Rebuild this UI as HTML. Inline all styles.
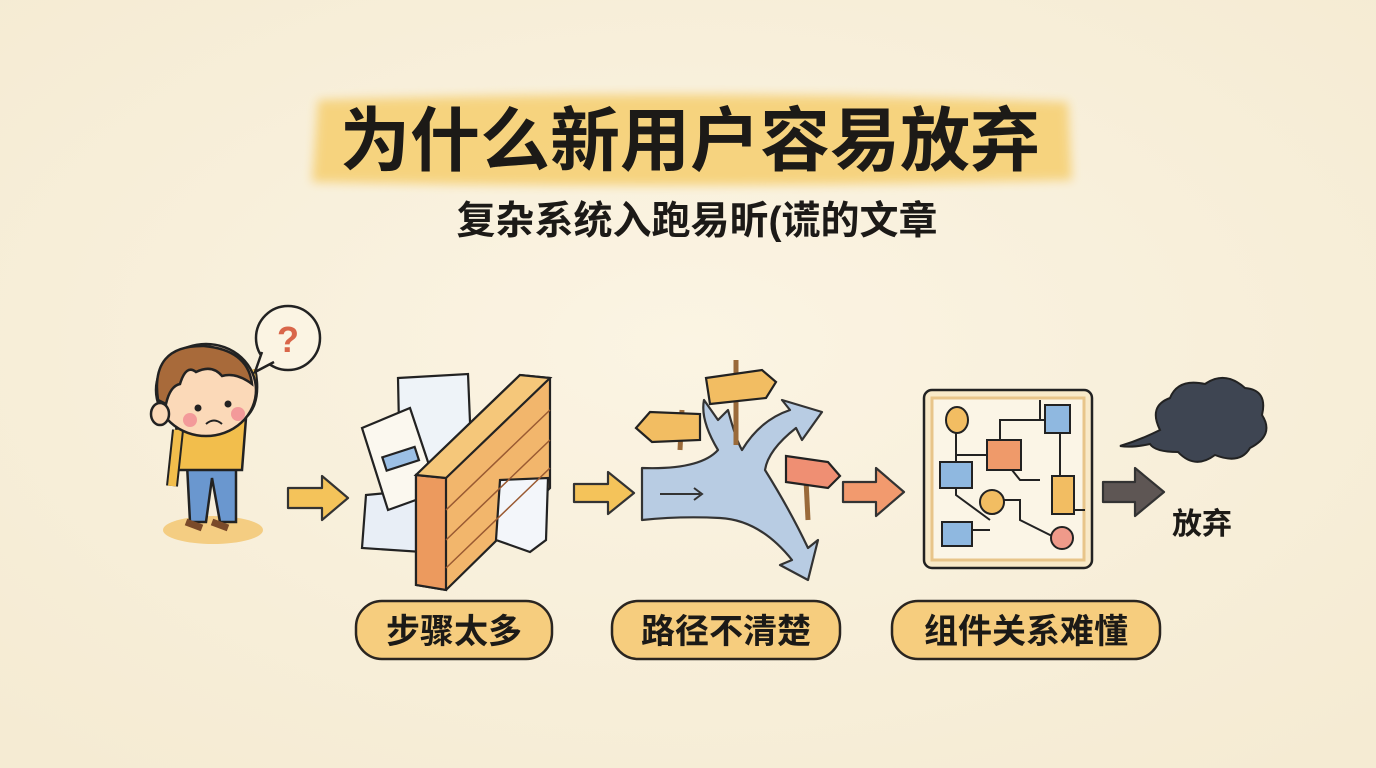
<!DOCTYPE html>
<html><head><meta charset="utf-8"><style>
html,body{margin:0;padding:0;background:#f9f1de;}
svg{display:block}
text{font-family:"Liberation Sans","Noto Sans CJK SC","WenQuanYi Zen Hei",sans-serif;}
</style></head><body>
<svg width="1376" height="768" viewBox="0 0 1376 768" xmlns="http://www.w3.org/2000/svg">
<defs>
<radialGradient id="bg" cx="50%" cy="45%" r="70%"><stop offset="0" stop-color="#fbf4e3"/><stop offset="1" stop-color="#f5ebd3"/></radialGradient>
<filter id="blur"><feGaussianBlur stdDeviation="5"/></filter>
</defs>
<rect width="1376" height="768" fill="url(#bg)"/>
<path d="M318 100 Q690 88 1068 102 L1072 180 Q690 190 312 182 Z" fill="#f6d27a" filter="url(#blur)" opacity="0.95"/>
<text x="690" y="165" text-anchor="middle" font-size="70" font-weight="bold" fill="#1c1a17">为什么新用户容易放弃</text>
<text x="697" y="234" text-anchor="middle" font-size="39" font-weight="bold" fill="#1c1a17">复杂系统入跑易昕(谎的文章</text>

<!-- boy -->
<ellipse cx="213" cy="530" rx="50" ry="14" fill="#f3c978" opacity="0.9"/>
<path d="M186 445 L190 522 L206 522 L212 478 L220 522 L236 522 L236 445 Z" fill="#6a97cf" stroke="#222" stroke-width="2.5"/>
<path d="M176 420 Q182 398 212 396 Q240 398 246 418 L242 470 L178 470 Z" fill="#f2be4c" stroke="#222" stroke-width="2.5"/>
<path d="M178 430 L172 486" stroke="#222" stroke-width="12"/><path d="M178 430 L172 486" stroke="#f2be4c" stroke-width="8"/>
<path d="M232 420 Q258 410 250 370" stroke="#222" stroke-width="13" fill="none"/><path d="M232 420 Q258 410 250 370" stroke="#f2be4c" stroke-width="9" fill="none"/>
<path d="M186 522 L202 528 M212 522 L228 528" stroke="#7a4a2a" stroke-width="7"/>
<ellipse cx="206" cy="390" rx="50" ry="46" fill="#fbd9b8" stroke="#222" stroke-width="2.5"/>
<ellipse cx="160" cy="414" rx="9" ry="11" fill="#fbd9b8" stroke="#222" stroke-width="2.5"/>
<path d="M158 400 Q150 345 204 346 Q248 350 252 384 Q236 372 222 376 Q212 364 196 372 Q186 364 180 384 Q170 386 166 404 Z" fill="#a86a3a" stroke="#222" stroke-width="2.5"/>
<circle cx="198" cy="408" r="3.5" fill="#222"/><circle cx="228" cy="404" r="3.5" fill="#222"/>
<circle cx="190" cy="420" r="7" fill="#f39a9a"/><circle cx="238" cy="414" r="7" fill="#f39a9a"/>
<path d="M206 424 Q214 417 222 424" stroke="#222" stroke-width="2" fill="none"/>
<circle cx="288" cy="338" r="32" fill="#fbf4e3" stroke="#222" stroke-width="2.5"/>
<path d="M262 352 L255 372 L274 362" fill="#fbf4e3" stroke="#222" stroke-width="2.5"/>
<text x="288" y="352" text-anchor="middle" font-size="36" font-weight="bold" fill="#d9664a">?</text>

<g stroke="#333" stroke-width="2.2" stroke-linejoin="round">
<path d="M288 488 L322 488 L322 476 L348 498 L322 520 L322 508 L288 508 Z" fill="#f4c35a"/>
<path d="M574 484 L608 484 L608 472 L634 493 L608 514 L608 502 L574 502 Z" fill="#f4c35a"/>
<path d="M843 482 L876 482 L876 468 L904 492 L876 516 L876 502 L843 502 Z" fill="#f29a6e"/>
<path d="M1103 482 L1135 482 L1135 468 L1164 492 L1135 516 L1135 502 L1103 502 Z" fill="#5e5654"/>
</g>

<!-- step1 -->
<g stroke="#222" stroke-width="2.2">
<path d="M398 378 L468 374 L472 470 L400 474 Z" fill="#eef3f8"/>
<path d="M366 495 L420 490 L422 552 L362 548 Z" fill="#e8eef6"/>
<path d="M362 428 L410 408 L438 492 L388 510 Z" fill="#fbf8ef"/>
<rect x="384" y="452" width="34" height="14" transform="rotate(-18 400 460)" fill="#9cc0e5"/>
<path d="M416 475 L520 375 L550 378 L550 488 L446 590 L416 585 Z" fill="#f2b66c"/>
<path d="M416 475 L446 478 L446 590 L416 585 Z" fill="#ec9a5e"/>
<path d="M416 475 L520 375 L550 378 L446 478 Z" fill="#f5c77a"/>
<path d="M500 480 L548 478 L546 540 L530 552 L496 540 Z" fill="#f3f6fa"/>
</g>
<g stroke="#9a5a32" stroke-width="1.5" fill="none">
<path d="M446 510 L550 410 M446 540 L550 440 M446 568 L550 468"/>
</g>

<!-- step2: roads -->
<g fill="#b8cce3" stroke="#333" stroke-width="2.2" stroke-linejoin="round">
<path d="M642 468 Q700 470 718 450 Q700 420 704 400 L718 420 L728 410 Q736 440 742 450 Q760 420 790 410 L782 400 L822 412 L802 440 L796 428 Q768 450 765 470 Q790 510 808 548 L818 540 L808 580 L780 565 L792 560 Q760 520 720 518 Q680 516 642 520 Z"/>
</g>
<path d="M660 494 L700 494" stroke="#333" stroke-width="2"/>
<path d="M694 488 L702 494 L694 500" stroke="#333" stroke-width="2" fill="none"/>
<g stroke="#222" stroke-width="2.2">
<path d="M680 450 L682 410" stroke="#9a6a3a" stroke-width="5"/>
<path d="M736 360 L736 445" stroke="#9a6a3a" stroke-width="5"/>
<path d="M806 480 L808 520" stroke="#9a6a3a" stroke-width="5"/>
<path d="M636 428 L650 412 L700 414 L700 440 L652 442 Z" fill="#f2bd62"/>
<path d="M706 378 L762 370 L776 382 L766 398 L710 404 Z" fill="#f2bd62"/>
<path d="M786 456 L828 462 L840 476 L828 488 L786 482 Z" fill="#ef8f73"/>
</g>

<!-- step3 -->
<rect x="924" y="390" width="168" height="178" rx="8" fill="#f8e9c8" stroke="#222" stroke-width="2.5"/>
<rect x="932" y="398" width="152" height="162" fill="#fbf5e6" stroke="#e8c58a" stroke-width="3"/>
<g stroke="#222" stroke-width="2" fill="none">
<path d="M956 420 L956 495 L990 520 M956 455 L1000 455 M1000 455 L1000 420 L1040 420 L1040 400 M1040 420 L1062 420 M1060 420 L1060 510 L1085 510 M1000 455 L1020 480 L1040 480 M990 500 L1020 500 L1020 520 L1060 540 M956 530 L990 530"/>
</g>
<g stroke="#222" stroke-width="2">
<ellipse cx="957" cy="420" rx="11" ry="13" fill="#f2bd62"/>
<rect x="1045" y="405" width="25" height="28" fill="#8fb8e0"/>
<rect x="987" y="440" width="34" height="30" fill="#ef9a6a"/>
<rect x="940" y="462" width="32" height="26" fill="#8fb8e0"/>
<circle cx="992" cy="502" r="12" fill="#f2bd62"/>
<rect x="1052" y="476" width="22" height="38" fill="#f2bd62"/>
<rect x="942" y="522" width="30" height="24" fill="#8fb8e0"/>
<circle cx="1062" cy="538" r="11" fill="#ef9a8a"/>
</g>

<path d="M1160 430 Q1148 406 1170 398 Q1178 378 1205 384 Q1225 370 1245 388 Q1268 390 1262 415 Q1275 435 1250 448 Q1240 465 1215 455 Q1195 470 1178 452 Q1155 452 1150 444 Q1132 448 1120 446 Q1140 440 1160 430 Z" fill="#3e4552" stroke="#222" stroke-width="2"/>
<text x="1202" y="534" text-anchor="middle" font-size="30" font-weight="bold" fill="#1c1a17">放弃</text>

<g stroke="#2a2520" stroke-width="2.5" fill="#f6cd7e">
<rect x="356" y="601" width="196" height="58" rx="26"/>
<rect x="612" y="601" width="228" height="58" rx="26"/>
<rect x="892" y="601" width="268" height="58" rx="26"/>
</g>
<g font-size="34" font-weight="bold" fill="#1c1a17" text-anchor="middle">
<text x="454" y="643">步骤太多</text>
<text x="726" y="643">路径不清楚</text>
<text x="1026" y="643">组件关系难懂</text>
</g>
</svg>
</body></html>
